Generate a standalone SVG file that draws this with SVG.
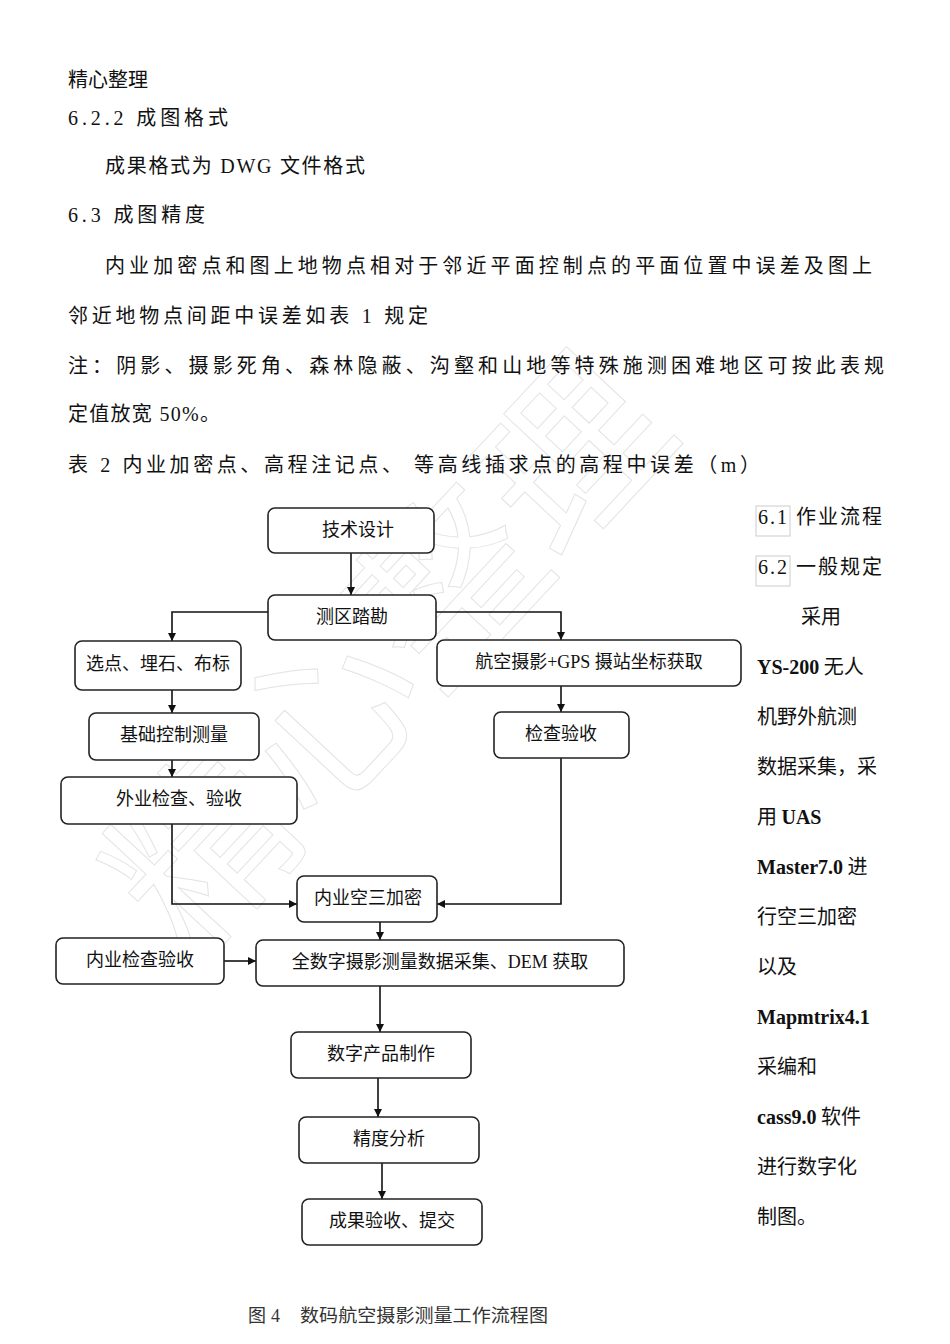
<svg xmlns="http://www.w3.org/2000/svg" width="950" height="1344" viewBox="0 0 950 1344">
<style>
.t{font-family:"Liberation Serif","Noto Sans CJK SC",serif;font-size:20px;fill:#111}
.s{font-family:"Noto Sans CJK SC",sans-serif;font-size:20px;fill:#111}
.r{font-family:"Noto Sans CJK SC",sans-serif;font-size:20px;fill:#111}
.b{font-family:"Liberation Serif",serif;font-weight:bold}
.box{fill:#fff;stroke:#222;stroke-width:1.6}
.lbl{font-family:"Noto Sans CJK SC",sans-serif;font-size:18px;fill:#111;text-anchor:middle}
.lbl .l{font-family:"Liberation Serif",serif}
.c{fill:none;stroke:#111;stroke-width:1.6}
.wm{font-family:"Noto Sans CJK SC",sans-serif;font-size:180px;fill:none;stroke:#e4e4e4;stroke-width:1}
.cap{font-family:"Noto Sans CJK SC",sans-serif;font-size:18px;fill:#333}
</style>
<defs>
<marker id="ah" viewBox="0 0 10 10" refX="10" refY="5" markerWidth="8" markerHeight="8" orient="auto" markerUnits="userSpaceOnUse">
<path d="M0,0 L10,5 L0,10 z" fill="#111"/>
</marker>
</defs>
<rect width="950" height="1344" fill="#fff"/>
<text class="wm" transform="translate(190,960) rotate(-47)">精心整理</text>

<g id="header">
<text class="s" x="68" y="87">精心整理</text>
<text class="t" x="68" y="125" textLength="160" lengthAdjust="spacing">6.2.2 成图格式</text>
<text class="t" x="105" y="173" textLength="260" lengthAdjust="spacing">成果格式为 DWG 文件格式</text>
<text class="t" x="68" y="222" textLength="137" lengthAdjust="spacing">6.3 成图精度</text>
<text class="t" x="105" y="273" textLength="767" lengthAdjust="spacing">内业加密点和图上地物点相对于邻近平面控制点的平面位置中误差及图上</text>
<text class="t" x="68" y="323" textLength="360" lengthAdjust="spacing">邻近地物点间距中误差如表 1 规定</text>
<text class="t" x="68" y="373" textLength="816" lengthAdjust="spacing">注：阴影、摄影死角、森林隐蔽、沟壑和山地等特殊施测困难地区可按此表规</text>
<text class="t" x="68" y="421" textLength="152" lengthAdjust="spacing">定值放宽 50%。</text>
<text class="t" x="68" y="472" textLength="692" lengthAdjust="spacing">表 2  内业加密点、高程注记点、  等高线插求点的高程中误差（m）</text>
</g>

<g id="sidebar">
<rect x="756" y="506" width="34" height="30" fill="none" stroke="#ccc" stroke-width="1"/>
<rect x="756" y="556" width="34" height="30" fill="none" stroke="#ccc" stroke-width="1"/>
<text class="t" x="758" y="524" textLength="124" lengthAdjust="spacing">6.1 作业流程</text>
<text class="t" x="758" y="574" textLength="124" lengthAdjust="spacing">6.2 一般规定</text>
<text class="r" x="801" y="624">采用</text>
<text class="r" x="757" y="674"><tspan class="b">YS-200</tspan> 无人</text>
<text class="r" x="757" y="724">机野外航测</text>
<text class="r" x="757" y="774">数据采集，采</text>
<text class="r" x="757" y="824">用 <tspan class="b">UAS</tspan></text>
<text class="r" x="757" y="874"><tspan class="b">Master7.0</tspan> 进</text>
<text class="r" x="757" y="924">行空三加密</text>
<text class="r" x="757" y="974">以及</text>
<text class="r" x="757" y="1024"><tspan class="b">Mapmtrix4.1</tspan></text>
<text class="r" x="757" y="1074">采编和</text>
<text class="r" x="757" y="1124"><tspan class="b">cass9.0</tspan> 软件</text>
<text class="r" x="757" y="1174">进行数字化</text>
<text class="r" x="757" y="1224">制图。</text>
</g>

<g id="connectors">
<path class="c" d="M351,553 V595" marker-end="url(#ah)"/>
<path class="c" d="M268,612 H172 V641" marker-end="url(#ah)"/>
<path class="c" d="M436,612 H561 V640" marker-end="url(#ah)"/>
<path class="c" d="M172,690 V713" marker-end="url(#ah)"/>
<path class="c" d="M561,686 V712" marker-end="url(#ah)"/>
<path class="c" d="M172,760 V777" marker-end="url(#ah)"/>
<path class="c" d="M172,824 V904 H297" marker-end="url(#ah)"/>
<path class="c" d="M561,758 V904 H437" marker-end="url(#ah)"/>
<path class="c" d="M380,922 V940" marker-end="url(#ah)"/>
<path class="c" d="M224,961 H256" marker-end="url(#ah)"/>
<path class="c" d="M380,986 V1032" marker-end="url(#ah)"/>
<path class="c" d="M378,1078 V1117" marker-end="url(#ah)"/>
<path class="c" d="M382,1163 V1199" marker-end="url(#ah)"/>
</g>

<g id="n1"><rect class="box" x="268" y="508" width="166" height="45" rx="7"/><text class="lbl" x="358" y="536">技术设计</text></g>
<g id="n2"><rect class="box" x="268" y="595" width="168" height="45" rx="7"/><text class="lbl" x="352" y="623">测区踏勘</text></g>
<g id="n3"><rect class="box" x="75" y="641" width="166" height="49" rx="7"/><text class="lbl" x="158" y="670">选点、埋石、布标</text></g>
<g id="n4"><rect class="box" x="437" y="640" width="304" height="46" rx="7"/><text class="lbl" x="589" y="668">航空摄影<tspan class="l">+GPS </tspan>摄站坐标获取</text></g>
<g id="n5"><rect class="box" x="89" y="713" width="170" height="47" rx="7"/><text class="lbl" x="174" y="741">基础控制测量</text></g>
<g id="n6"><rect class="box" x="494" y="712" width="135" height="46" rx="7"/><text class="lbl" x="561" y="740">检查验收</text></g>
<g id="n7"><rect class="box" x="61" y="777" width="236" height="47" rx="7"/><text class="lbl" x="179" y="805">外业检查、验收</text></g>
<g id="n8"><rect class="box" x="297" y="876" width="140" height="46" rx="7"/><text class="lbl" x="368" y="904">内业空三加密</text></g>
<g id="n9"><rect class="box" x="56" y="938" width="168" height="46" rx="7"/><text class="lbl" x="140" y="966">内业检查验收</text></g>
<g id="n10"><rect class="box" x="256" y="940" width="368" height="46" rx="7"/><text class="lbl" x="440" y="968">全数字摄影测量数据采集、<tspan class="l">DEM </tspan>获取</text></g>
<g id="n11"><rect class="box" x="291" y="1032" width="180" height="46" rx="7"/><text class="lbl" x="381" y="1060">数字产品制作</text></g>
<g id="n12"><rect class="box" x="299" y="1117" width="180" height="46" rx="7"/><text class="lbl" x="389" y="1145">精度分析</text></g>
<g id="n13"><rect class="box" x="302" y="1199" width="180" height="46" rx="7"/><text class="lbl" x="392" y="1227">成果验收、提交</text></g>

<g id="caption">
<text class="cap" x="248" y="1322">图<tspan style="font-family:'Liberation Serif',serif" dx="5">4</tspan></text>
<text class="cap" x="300" y="1322" textLength="248" lengthAdjust="spacingAndGlyphs">数码航空摄影测量工作流程图</text>
</g>
</svg>
